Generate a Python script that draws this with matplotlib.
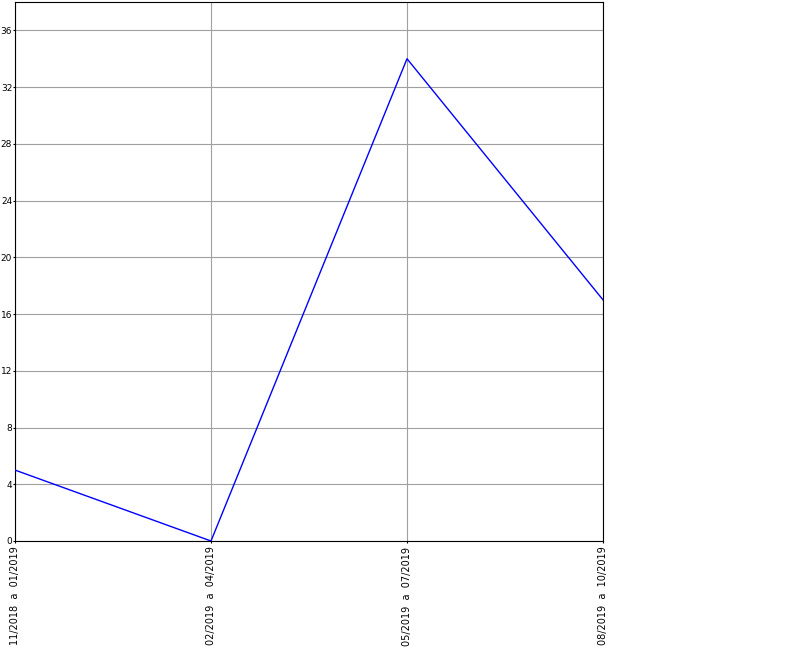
import matplotlib
matplotlib.use('Agg')
import matplotlib.pyplot as plt

# periods and counts
periods = ['11/2018  a  01/2019', '02/2019  a  04/2019',
           '05/2019  a  07/2019', '08/2019  a  10/2019']
counts = [5, 0, 34, 17]
y_ticks = list(range(0, 37, 4))

fig = plt.figure(figsize=(8, 6.5), dpi=100)
ax = fig.add_axes([15 / 800, 1 - 541 / 650, 588 / 800, 539 / 650])

x = list(range(len(periods)))
ax.plot(x, counts, color='#0000ff', linewidth=1.0, zorder=3)

ax.set_xlim(0, len(periods) - 1)
ax.set_ylim(0, 38)
ax.set_xticks(x)
ax.set_xticklabels(periods, rotation=90, fontsize=7, va='top', ha='center')
ax.set_yticks(y_ticks)
ax.set_yticklabels([str(v) for v in y_ticks], fontsize=6.5)
ax.tick_params(axis='y', length=1.5, pad=0.5)
ax.tick_params(axis='x', length=1.5, pad=2.5)
ax.grid(True, color='#a0a0a0', linewidth=0.8)
ax.set_axisbelow(True)
for s in ax.spines.values():
    s.set_linewidth(0.8)

fig.savefig('out.png', dpi=100)
